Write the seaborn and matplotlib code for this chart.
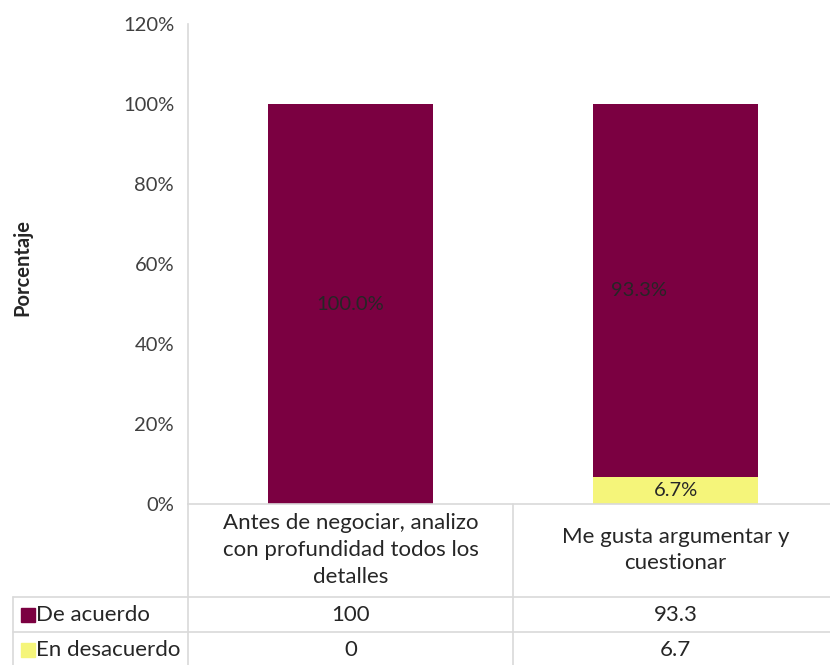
import matplotlib
matplotlib.use("Agg")
import matplotlib.pyplot as plt
import matplotlib.transforms as mtransforms
from matplotlib.lines import Line2D
from matplotlib.patches import Rectangle
import seaborn as sns
import pandas as pd

# ---- data ----
categories = [
    "Antes de negociar, analizo\ncon profundidad todos los\ndetalles",
    "Me gusta argumentar y\ncuestionar",
]
series_names = ["De acuerdo", "En desacuerdo"]
de_acuerdo = [100.0, 93.3]
en_desacuerdo = [0.0, 6.7]
y_ticks = [0, 20, 40, 60, 80, 100, 120]

colors = {"De acuerdo": "#7B0041", "En desacuerdo": "#F5F57A"}
grid_color = "#D9D9D9"
text_color = "#262626"

df = pd.DataFrame({
    "categoria": categories,
    "De acuerdo": de_acuerdo,
    "En desacuerdo": en_desacuerdo,
})
df["total"] = df["De acuerdo"] + df["En desacuerdo"]

sns.set_theme(style="white")
plt.rcParams["font.family"] = ["Lato", "DejaVu Sans"]

W, H = 830, 665
fig = plt.figure(figsize=(W / 100, H / 100), dpi=100)


def fx(px):
    return px / W


def fy(py):
    return 1 - py / H


# plot area runs slightly past the right edge of the canvas
ax = fig.add_axes([fx(188), fy(504), fx(838) - fx(188), fy(24) - fy(504)])

# stacked bars: full stack in maroon, lower segment in yellow on top of it
bar_w = 0.51
sns.barplot(data=df, x="categoria", y="total", color=colors["De acuerdo"],
            width=bar_w, saturation=1, linewidth=0, ax=ax)
sns.barplot(data=df, x="categoria", y="En desacuerdo", color=colors["En desacuerdo"],
            width=bar_w, saturation=1, linewidth=0, ax=ax)

ax.set_xlim(-0.5, 1.5)
ax.set_ylim(0, 120)
ax.set_yticks(y_ticks)
ax.set_yticklabels([f"{t}%" for t in y_ticks], fontsize=14.5, color="#404040")
ax.tick_params(axis="y", length=0, pad=10)
ax.set_xticks([])
ax.set_xlabel("")
ax.set_ylabel("")
for side in ["top", "right"]:
    ax.spines[side].set_visible(False)
for side in ["left", "bottom"]:
    ax.spines[side].set_color(grid_color)
    ax.spines[side].set_linewidth(1.2)

fig.text(fx(22), fy(268), "Porcentaje", rotation=90, ha="center", va="center",
         fontsize=14.5, fontweight="bold", color=text_color)

# value labels inside segments
label_dx_pt = [0, -26]
for i, (a, d) in enumerate(zip(de_acuerdo, en_desacuerdo)):
    ax.annotate(f"{a:.1f}%", (i, d + a / 2), xytext=(label_dx_pt[i], 0),
                textcoords="offset points", ha="center", va="center",
                fontsize=14.5, color=text_color)
    if d > 0:
        ax.annotate(f"{d:.1f}%", (i, d / 2), ha="center", va="center",
                    fontsize=14.5, color=text_color)

# ---- data table below the plot ----
blend = mtransforms.blended_transform_factory(ax.transData, fig.transFigure)


def hline(x0, x1, y):
    fig.add_artist(Line2D([fx(x0), fx(x1)], [fy(y), fy(y)], color=grid_color,
                          lw=1.2, transform=fig.transFigure))


def vline(x, y0, y1):
    fig.add_artist(Line2D([fx(x), fx(x)], [fy(y0), fy(y1)], color=grid_color,
                          lw=1.2, transform=fig.transFigure))


hline(13, 830, 597)
hline(13, 830, 632)
vline(188, 504, 665)
vline(13, 597, 665)
fig.add_artist(Line2D([0.5, 0.5], [fy(504), fy(665)], color=grid_color, lw=1.2,
                      transform=blend))

table_fs = 16
for i, cat in enumerate(categories):
    fig.text(i, fy(550), cat, transform=blend, ha="center", va="center",
             multialignment="center", linespacing=1.42, fontsize=table_fs,
             color=text_color)

row_y = [615, 650]
for name, vals, ry in zip(series_names, [de_acuerdo, en_desacuerdo], row_y):
    fig.add_artist(Rectangle((fx(21), fy(ry + 7)), fx(14), fy(0) - fy(14),
                             color=colors[name], transform=fig.transFigure))
    fig.text(fx(36), fy(ry), name, ha="left", va="center", fontsize=table_fs,
             color=text_color)
    for i, v in enumerate(vals):
        fig.text(i, fy(ry), f"{v:g}", transform=blend, ha="center", va="center",
                 fontsize=table_fs, color=text_color)

fig.savefig("out.png", dpi=100)
